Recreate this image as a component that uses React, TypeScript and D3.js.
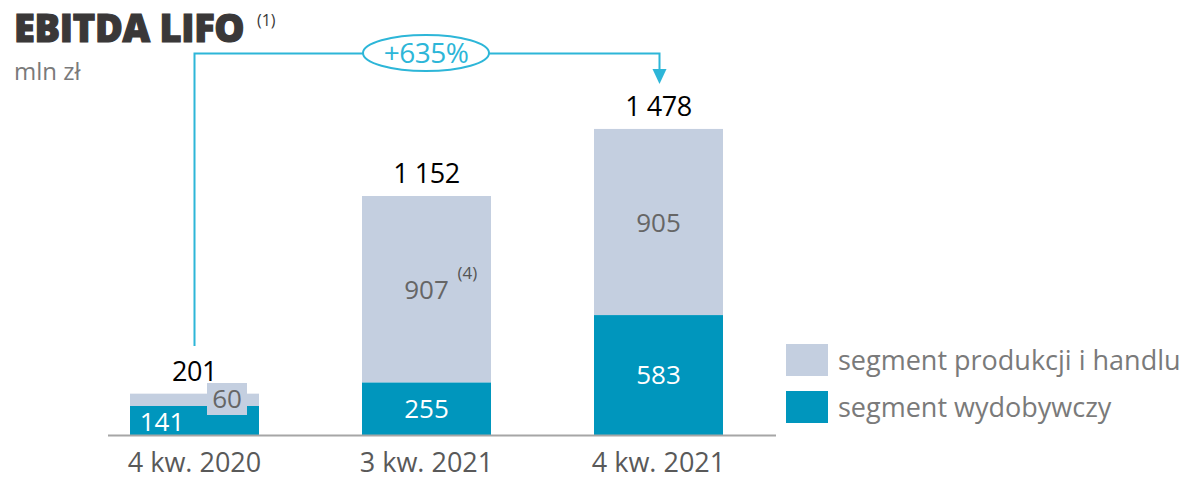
import React from "react";
import * as d3 from "d3";

const categories = ["4 kw. 2020", "3 kw. 2021", "4 kw. 2021"];
const extraction = [141, 255, 583];
const production = [60, 907, 905];
const totals = ["201", "1 152", "1 478"];
const growthLabel = "+635%";
const legendLabels = ["segment produkcji i handlu", "segment wydobywczy"];

const W = 1189, H = 479;
const LIGHT = "#c4cfe0", DARK = "#0096bd", CYAN = "#2db6d8";
const FONT = "'Open Sans', 'Noto Sans', sans-serif";

export default function App() {
  const bw = 129;
  const bx = d3.scaleBand<string>().domain(categories).range([130 - 103 / 2 + 0, 723 + 103 / 2]).paddingInner(103 / 232).paddingOuter(0);
  const xb = (c: string) => 130 + categories.indexOf(c) * 232;
  const y = d3.scaleLinear().domain([0, 1478]).range([435, 131]);

  const fs = 26;
  return (
    <svg width={W} height={H} style={{ position: "absolute", left: 0, top: 0 }} fontFamily={FONT}>
      <rect width={W} height={H} fill="#fff" />
      {/* title */}
      <text x={14} y={42} fontSize={38} fontWeight={800} fill="#3a3838" stroke="#3a3838" strokeWidth={1.2} letterSpacing={-0.3}>EBITDA LIFO</text>
      <text x={257} y={26} fontSize={16} fill="#3a3838">(1)</text>
      <text x={14} y={80} fontSize={24} fill="#7a7a7a">mln zł</text>

      {/* bars */}
      {categories.map((c, i) => {
        const x0 = xb(c);
        const yd = y(extraction[i]);
        const yt = y(extraction[i] + production[i]);
        return (
          <g key={c}>
            <rect x={x0} y={yt} width={bw} height={yd - yt} fill={LIGHT} />
            <rect x={x0} y={yd} width={bw} height={y(0) - yd} fill={DARK} />
          </g>
        );
      })}
      {/* axis */}
      <line x1={108} x2={776} y1={435.5} y2={435.5} stroke="#a6a6a6" strokeWidth={2} />

      {/* segment labels */}
      {categories.map((c, i) => {
        const cx = xb(c) + bw / 2;
        const yd = y(extraction[i]);
        const yt = y(extraction[i] + production[i]);
        if (i === 0) {
          return (
            <g key={"l" + c}>
              <text x={xb(c) + 32} y={431} fontSize={fs} fill="#fff" textAnchor="middle">{extraction[i]}</text>
              <rect x={207} y={383} width={40} height={32} fill={LIGHT} />
              <text x={227} y={408} fontSize={fs} fill="#666" textAnchor="middle">{production[i]}</text>
            </g>
          );
        }
        return (
          <g key={"l" + c}>
            <text x={cx} y={(yd + y(0)) / 2 + 9} fontSize={fs} fill="#fff" textAnchor="middle">{extraction[i]}</text>
            <text x={cx} y={(yt + yd) / 2 + 10} fontSize={fs} fill="#666" textAnchor="middle">{production[i]}</text>
            {i === 1 && <text x={cx + 31} y={(yt + yd) / 2 - 10} fontSize={17} fill="#555">(4)</text>}
          </g>
        );
      })}

      {/* totals */}
      {categories.map((c, i) => (
        <text key={"t" + c} x={xb(c) + bw / 2} y={y(extraction[i] + production[i]) - 13} fontSize={27} fill="#000" textAnchor="middle" letterSpacing={-0.5}>{totals[i]}</text>
      ))}

      {/* category labels */}
      {categories.map((c) => (
        <text key={"c" + c} x={xb(c) + bw / 2} y={472} fontSize={27} fill="#595959" textAnchor="middle">{c}</text>
      ))}

      {/* growth arrow */}
      <path d={`M${xb(categories[0]) + bw / 2},346 V53.5 H${xb(categories[2]) + bw / 2 + 1} V72`} fill="none" stroke={CYAN} strokeWidth={2} />
      <path d={`M${xb(categories[2]) + bw / 2 - 6},69 L${xb(categories[2]) + bw / 2 + 8},69 L${xb(categories[2]) + bw / 2 + 1},84 Z`} fill={CYAN} />
      <ellipse cx={426} cy={53} rx={63} ry={18} fill="#fff" stroke={CYAN} strokeWidth={2} />
      <text x={426} y={63} fontSize={28} fill={CYAN} textAnchor="middle" letterSpacing={-0.5}>{growthLabel}</text>

      {/* legend */}
      {legendLabels.map((l, i) => (
        <g key={l}>
          <rect x={786} y={344 + i * 47} width={42} height={32} fill={i === 0 ? LIGHT : DARK} />
          <text x={838} y={370 + i * 47} fontSize={27} fill="#7a7a7a">{l}</text>
        </g>
      ))}
    </svg>
  );
}
